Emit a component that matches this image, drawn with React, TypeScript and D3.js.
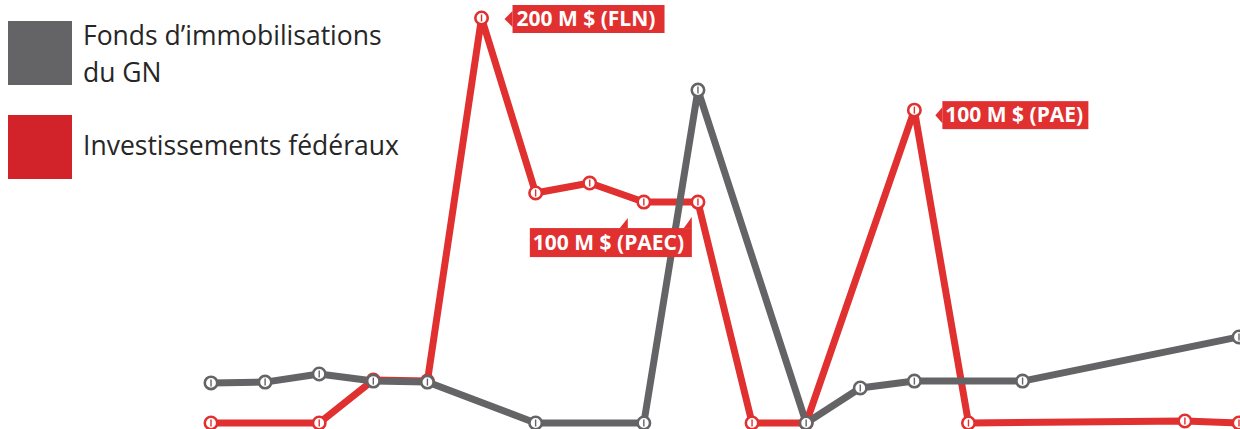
import React from "react";
import * as d3 from "d3";

// Category slots (evenly spaced periods along the x axis)
const slots = d3.range(20);

// Series: Fonds d'immobilisations du GN
const gnIdx = [0, 1, 2, 3, 4, 6, 8, 9, 11, 12, 13, 15, 19];
const gnVal = [19.8, 20.2, 24.2, 20.7, 20.2, 0, 0, 164.4, 0, 17.3, 20.7, 20.7, 42.5];

// Series: Investissements fédéraux
const fedIdx = [0, 2, 3, 4, 5, 6, 7, 8, 9, 10, 11, 13, 14, 18, 19];
const fedVal = [0, 0, 21.2, 20.7, 200, 113.6, 118.5, 109.1, 109.1, 0, 0, 154.5, 0, 1, 0];

// Legend labels
const legendGN = ["Fonds d\u2019immobilisations", "du GN"];
const legendFed = ["Investissements fédéraux"];

// Annotation labels
const annoText = ["200 M $ (FLN)", "100 M $ (PAE)", "100 M $ (PAEC)"];

const W = 1240;
const H = 429;
const GRAY = "#646466";
const RED = "#e0302f";
const RED_LEG = "#d2222a";

export default function App() {
  const x = d3.scaleLinear().domain([0, slots.length - 1]).range([211, 1239]);
  const y = d3.scaleLinear().domain([0, 200]).range([423, 18]);

  const gn = gnIdx.map((i, k) => ({ i, v: gnVal[k] }));
  const fed = fedIdx.map((i, k) => ({ i, v: fedVal[k] }));

  const line = d3
    .line<{ i: number; v: number }>()
    .x((d) => x(d.i))
    .y((d) => y(d.v));

  const marker = (d: { i: number; v: number }, color: string, key: string) => (
    <g key={key}>
      <circle cx={x(d.i)} cy={y(d.v)} r={6.2} fill="#fff" stroke={color} strokeWidth={2.6} />
      <line x1={x(d.i)} x2={x(d.i)} y1={y(d.v) - 3.5} y2={y(d.v) + 3.5} stroke={color} strokeWidth={1.4} />
    </g>
  );

  // annotation anchors
  const fln = fed[4];
  const pae = fed[11];
  const paecA = fed[7];

  const flnX = x(fln.i) + 31;
  const flnY = y(fln.v) - 13;
  const paeX = x(pae.i) + 28;
  const paeY = y(pae.v) - 9;
  const paecX = x(paecA.i) - 114;
  const paecY = y(paecA.v) + 26;

  const labelStyle: React.CSSProperties = {
    fontFamily: "'Open Sans', sans-serif",
    fontWeight: 700,
    fontSize: 21,
    fill: "#fff",
  };

  return (
    <svg
      width={W}
      height={H}
      style={{ position: "absolute", left: 0, top: 0, background: "#fff" }}
    >
      {/* Legend */}
      <rect x={8} y={21} width={64} height={64} fill={GRAY} />
      <rect x={8} y={115} width={64} height={64} fill={RED_LEG} />
      <g fontFamily="'Open Sans', sans-serif" fontSize={26.5} fill="#262626">
        <text x={83} y={45}>{legendGN[0]}</text>
        <text x={83} y={82}>{legendGN[1]}</text>
        <text x={83} y={155}>{legendFed[0]}</text>
      </g>

      {/* Lines */}
      <path d={line(fed) || ""} fill="none" stroke={RED} strokeWidth={7} strokeLinejoin="round" />
      <path d={line(gn) || ""} fill="none" stroke={GRAY} strokeWidth={7} strokeLinejoin="round" />

      {/* Markers */}
      {fed.map((d, k) => marker(d, RED, "f" + k))}
      {gn.map((d, k) => marker(d, GRAY, "g" + k))}

      {/* Annotation FLN */}
      <g>
        <path
          d={`M${flnX - 8},${flnY + 14} L${flnX},${flnY + 6} L${flnX},${flnY + 22} Z`}
          fill={RED}
        />
        <rect x={flnX} y={flnY} width={152} height={28} fill={RED} />
        <text x={flnX + 4} y={flnY + 21} style={labelStyle}>{annoText[0]}</text>
      </g>

      {/* Annotation PAE */}
      <g>
        <path
          d={`M${paeX - 7},${paeY + 14} L${paeX},${paeY + 6} L${paeX},${paeY + 22} Z`}
          fill={RED}
        />
        <rect x={paeX} y={paeY} width={146} height={28} fill={RED} />
        <text x={paeX + 3} y={paeY + 21} style={labelStyle}>{annoText[1]}</text>
      </g>

      {/* Annotation PAEC */}
      <g>
        <rect x={paecX} y={paecY} width={162} height={29} fill={RED} />
        <path d={`M${paecX + 90},${paecY} L${paecX + 98},${paecY - 10} L${paecX + 98},${paecY} Z`} fill={RED} />
        <path d={`M${paecX + 154},${paecY} L${paecX + 162},${paecY - 11} L${paecX + 162},${paecY} Z`} fill={RED} />
        <text x={paecX + 3} y={paecY + 22} style={labelStyle}>{annoText[2]}</text>
      </g>
    </svg>
  );
}
